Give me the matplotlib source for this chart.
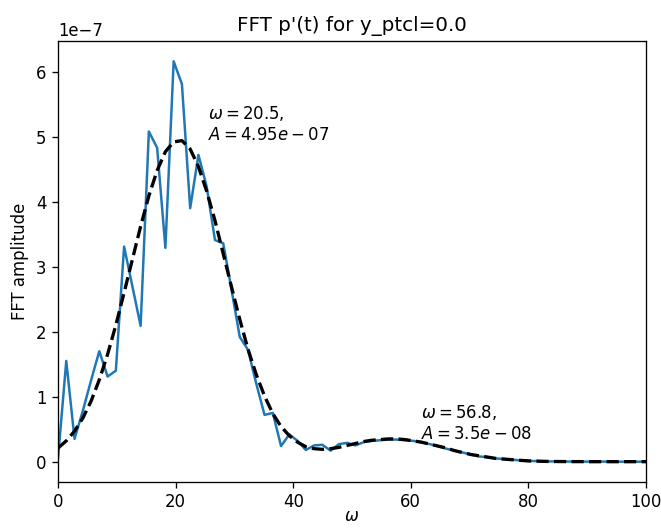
import numpy as np
import matplotlib
matplotlib.use("Agg")
import matplotlib.pyplot as plt

# frequency grid step
d_omega = 1.405

# FFT amplitude (units of 1e-7)
fft_amp = [0.05, 1.55, 0.35, 0.78, 1.25, 1.70, 1.31, 1.40, 3.31, 2.70,
           2.09, 5.08, 4.83, 3.29, 6.16, 5.81, 3.90, 4.72, 4.23, 3.41,
           3.36, 2.65, 1.92, 1.72, 1.20, 0.72, 0.75, 0.24, 0.42, 0.32,
           0.18, 0.25, 0.26, 0.17, 0.27, 0.29, 0.25, 0.30, 0.32, 0.33,
           0.34, 0.34, 0.33, 0.32, 0.30, 0.27, 0.24, 0.20, 0.17, 0.14,
           0.11, 0.08, 0.07, 0.05, 0.04, 0.03, 0.02, 0.01, 0.01, 0.005,
           0.004, 0.003, 0.002, 0.002, 0.001, 0.001, 0.001, 0.001, 0.0, 0.0,
           0.0, 0.0, 0.0]

# fitted curve (units of 1e-7)
fit_amp = [0.21, 0.32, 0.47, 0.67, 0.93, 1.26, 1.65, 2.10, 2.60, 3.11,
           3.62, 4.09, 4.48, 4.77, 4.92, 4.94, 4.81, 4.54, 4.16, 3.71,
           3.20, 2.69, 2.19, 1.73, 1.34, 1.01, 0.74, 0.54, 0.40, 0.30,
           0.23, 0.20, 0.19, 0.20, 0.22, 0.25, 0.28, 0.31, 0.33, 0.34,
           0.35, 0.35, 0.34, 0.32, 0.30, 0.27, 0.24, 0.21, 0.17, 0.14,
           0.11, 0.09, 0.07, 0.05, 0.04, 0.03, 0.02, 0.012, 0.008, 0.005,
           0.003, 0.002, 0.001, 0.001, 0.0, 0.0, 0.0, 0.0, 0.0, 0.0,
           0.0, 0.0, 0.0]

peak_omega = [20.5, 56.8]
peak_amp = [4.95e-07, 3.5e-08]

omega = np.arange(len(fft_amp)) * d_omega
fft = np.array(fft_amp) * 1e-7
fit = np.array(fit_amp) * 1e-7

DPI = 119
fig = plt.figure(figsize=(661 / DPI, 528 / DPI), dpi=DPI)
ax = fig.add_axes([58/661, (528-481.7)/528, 588/661, (481.7-41.3)/528])

ax.plot(omega, fft, color='C0', lw=1.5)
ax.plot(omega, fit, 'k--', lw=2)

for w, a in zip(peak_omega, peak_amp):
    ax.text(w + 5, a, f'$\\omega = {w:.3g}$,\n$A = {a:.3g}$')

ax.set_xlim(0, 100)
ax.set_title("FFT p'(t) for y_ptcl=0.0")
ax.set_ylabel('FFT amplitude')
ax.set_xlabel(r'$\omega$', labelpad=-2.5)

fig.savefig('out.png', dpi=DPI)
